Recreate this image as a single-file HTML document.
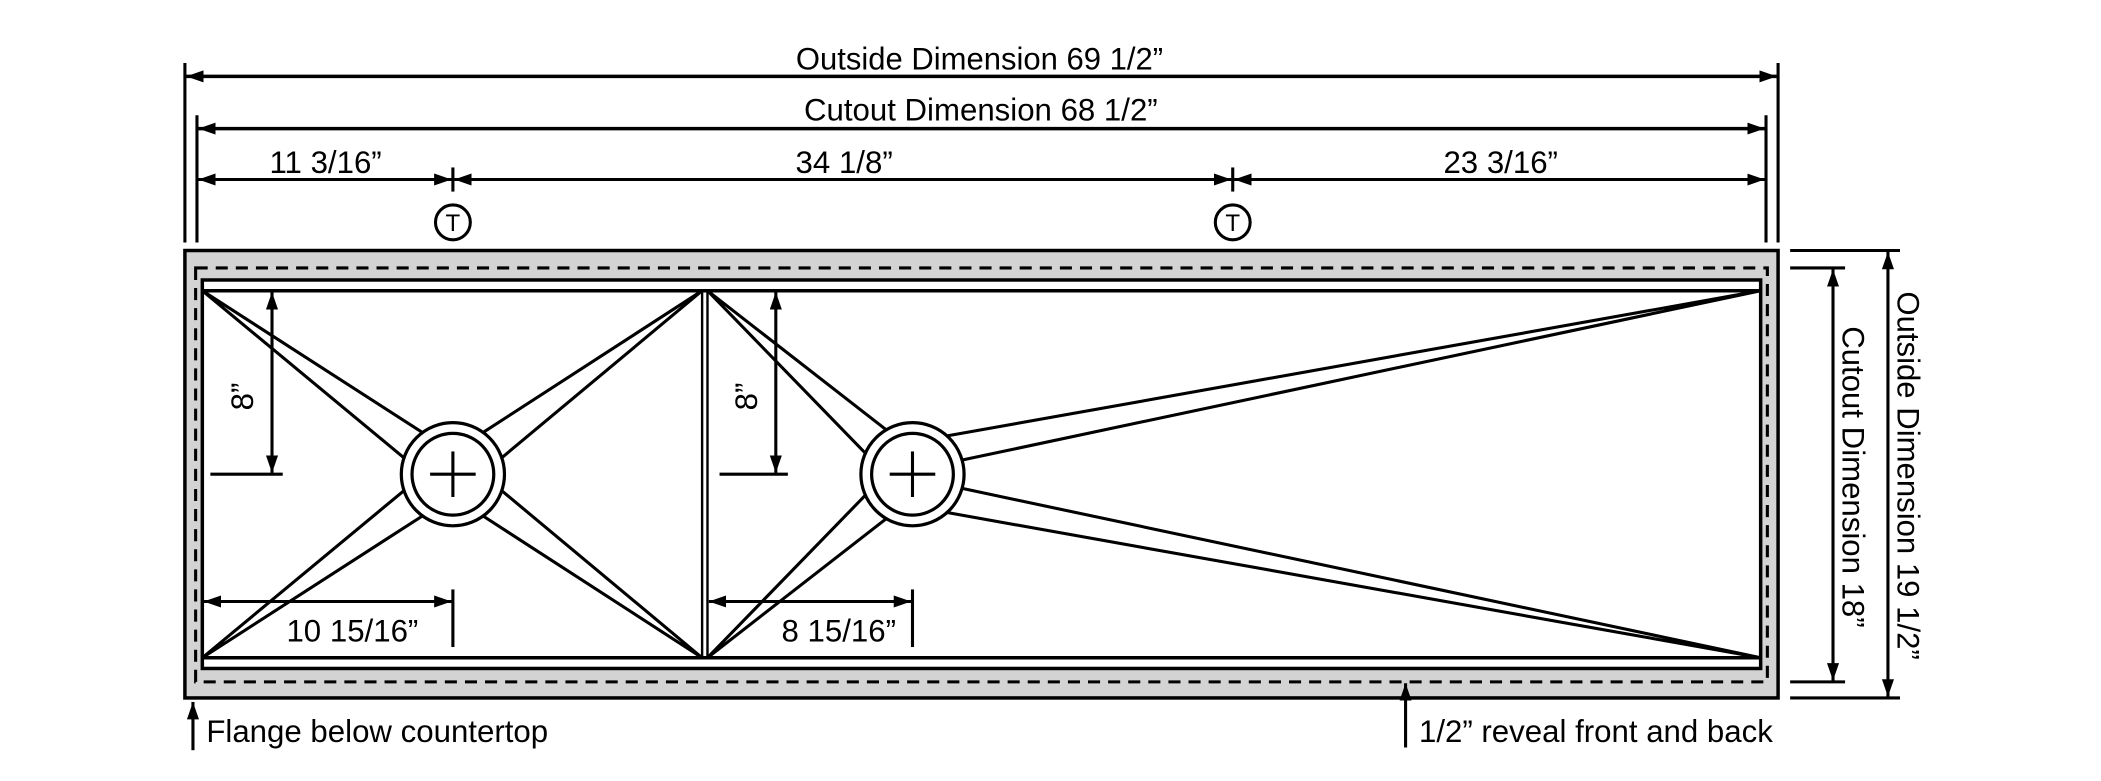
<!DOCTYPE html>
<html><head><meta charset="utf-8"><style>
html,body{margin:0;padding:0;background:#fff;}
svg{display:block;}
text{font-family:"Liberation Sans",Arial,sans-serif;fill:#000;}
</style></head><body>
<svg width="2101" height="781" viewBox="0 0 1568 583" preserveAspectRatio="none" xmlns="http://www.w3.org/2000/svg">
<defs>
<marker id="a" markerUnits="userSpaceOnUse" markerWidth="14" markerHeight="10" refX="13" refY="4.5" orient="auto-start-reverse"><path d="M0,0 L13,4.5 L0,9 z" fill="#000"/></marker>
</defs>
<g stroke="#000" stroke-width="2.3" fill="none">
<line x1="138" y1="47" x2="138" y2="181"/>
<line x1="1327" y1="47" x2="1327" y2="181"/>
<line x1="147" y1="86" x2="147" y2="181"/>
<line x1="1318" y1="86" x2="1318" y2="181"/>
<line x1="338" y1="125" x2="338" y2="143"/>
<line x1="920" y1="125" x2="920" y2="143"/>
<line x1="139" y1="57" x2="1326" y2="57" stroke-width="2.6" marker-start="url(#a)" marker-end="url(#a)"/>
<line x1="148" y1="96" x2="1317" y2="96" stroke-width="2.6" marker-start="url(#a)" marker-end="url(#a)"/>
<line x1="148" y1="134" x2="337" y2="134" marker-start="url(#a)" marker-end="url(#a)"/>
<line x1="339" y1="134" x2="919" y2="134" marker-start="url(#a)" marker-end="url(#a)"/>
<line x1="921" y1="134" x2="1317" y2="134" marker-start="url(#a)" marker-end="url(#a)"/>
<circle cx="338" cy="166" r="13"/>
<circle cx="920" cy="166" r="13"/>
<rect x="138" y="187" width="1189" height="334" fill="#d3d3d3" stroke-width="2.6"/>
<rect x="146" y="200" width="1173" height="309" stroke-dasharray="9,6"/>
<rect x="151" y="209" width="1163" height="290" fill="#fff" stroke-width="2.6"/>
<line x1="151" y1="217" x2="1314" y2="217" stroke-width="2.6"/>
<line x1="151" y1="491" x2="1314" y2="491" stroke-width="2.6"/>
<line x1="524" y1="217" x2="524" y2="491" stroke-width="1.8"/>
<line x1="528" y1="217" x2="528" y2="491" stroke-width="1.8"/>
<polyline points="301.9,342.1 151,217 315.8,323.2"/>
<polyline points="360.1,323.1 524,217 374.1,342"/>
<polyline points="315.8,384.8 151,491 301.9,365.9"/>
<polyline points="374.1,366 524,491 360.1,384.9"/>
<polyline points="646.2,338.7 528,217 661.9,321.2"/>
<polyline points="661.9,386.8 528,491 646.2,369.3"/>
<polyline points="706.8,325.4 1314,217 718.1,343.4"/>
<polyline points="718.1,364.6 1314,491 706.8,382.6"/>
<circle cx="338" cy="354" r="38.5" fill="#fff" stroke-width="2.4"/>
<circle cx="338" cy="354" r="30.5" stroke-width="2.4"/>
<line x1="321" y1="354" x2="355" y2="354"/>
<line x1="338" y1="337" x2="338" y2="371"/>
<circle cx="681" cy="354" r="38.5" fill="#fff" stroke-width="2.4"/>
<circle cx="681" cy="354" r="30.5" stroke-width="2.4"/>
<line x1="664" y1="354" x2="698" y2="354"/>
<line x1="681" y1="337" x2="681" y2="371"/>
<line x1="203" y1="218" x2="203" y2="353" marker-start="url(#a)" marker-end="url(#a)"/>
<line x1="157" y1="354" x2="211" y2="354"/>
<line x1="579" y1="218" x2="579" y2="353" marker-start="url(#a)" marker-end="url(#a)"/>
<line x1="537" y1="354" x2="588" y2="354"/>
<line x1="152" y1="449" x2="337" y2="449" marker-start="url(#a)" marker-end="url(#a)"/>
<line x1="338" y1="440" x2="338" y2="483"/>
<line x1="529" y1="449" x2="680" y2="449" marker-start="url(#a)" marker-end="url(#a)"/>
<line x1="681" y1="440" x2="681" y2="483"/>
<line x1="1336" y1="187" x2="1418" y2="187"/>
<line x1="1336" y1="521" x2="1418" y2="521"/>
<line x1="1336" y1="200" x2="1377" y2="200"/>
<line x1="1336" y1="509" x2="1377" y2="509"/>
<line x1="1409" y1="188" x2="1409" y2="520" marker-start="url(#a)" marker-end="url(#a)"/>
<line x1="1368" y1="201" x2="1368" y2="508" marker-start="url(#a)" marker-end="url(#a)"/>
<line x1="144" y1="560" x2="144" y2="524" marker-end="url(#a)"/>
<line x1="1049" y1="558" x2="1049" y2="510" marker-end="url(#a)"/>
</g>
<g font-size="23.3">
<text x="731" y="52" text-anchor="middle" textLength="274" lengthAdjust="spacingAndGlyphs">Outside Dimension 69 1/2”</text>
<text x="732" y="90" text-anchor="middle" textLength="264" lengthAdjust="spacingAndGlyphs">Cutout Dimension 68 1/2”</text>
<text x="243" y="129" text-anchor="middle">11 3/16”</text>
<text x="630" y="129" text-anchor="middle">34 1/8”</text>
<text x="1120" y="129" text-anchor="middle">23 3/16”</text>
<text x="263" y="479" text-anchor="middle">10 15/16”</text>
<text x="626" y="479" text-anchor="middle">8 15/16”</text>
<text x="154" y="554">Flange below countertop</text>
<text x="1059" y="554">1/2” reveal front and back</text>
<text transform="translate(1424,355) rotate(90)" text-anchor="middle" dominant-baseline="central" textLength="275" lengthAdjust="spacingAndGlyphs">Outside Dimension 19 1/2”</text>
<text transform="translate(1383,356) rotate(90)" text-anchor="middle" dominant-baseline="central" textLength="225" lengthAdjust="spacingAndGlyphs">Cutout Dimension 18”</text>
<text transform="translate(181,296) rotate(-90)" text-anchor="middle" dominant-baseline="central">8”</text>
<text transform="translate(557,296) rotate(-90)" text-anchor="middle" dominant-baseline="central">8”</text>
</g>
<g font-size="18">
<text x="338" y="172.5" text-anchor="middle">T</text>
<text x="920" y="172.5" text-anchor="middle">T</text>
</g>
</svg>
</body></html>
